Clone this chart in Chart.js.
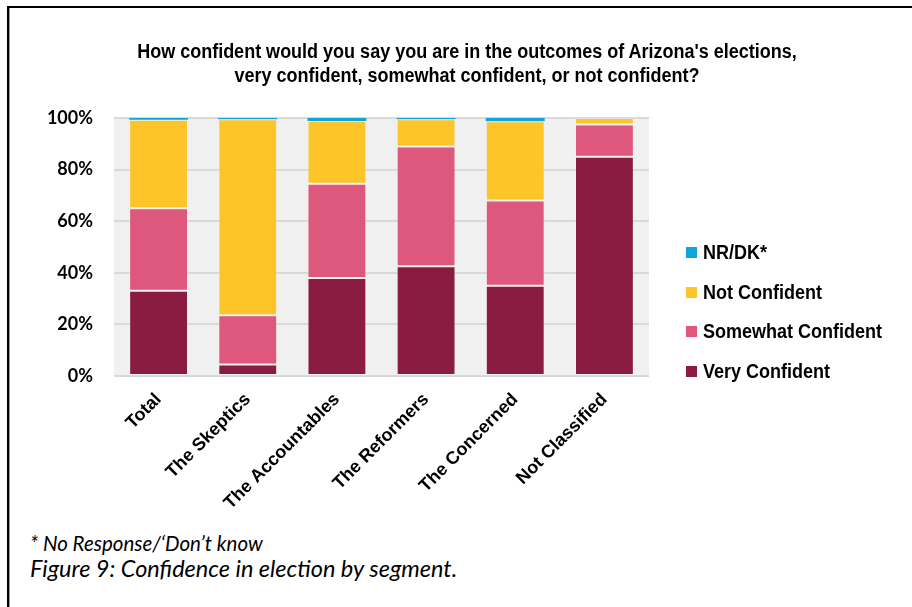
<!DOCTYPE html>
<html>
<head>
<meta charset="utf-8">
<script src="https://cdn.jsdelivr.net/npm/chart.js@4.4.1/dist/chart.umd.min.js"></script>
<style>
  body { margin: 0; background: #fff; }
  #wrap { position: relative; width: 912px; height: 607px; overflow: hidden; }
  #frame { position: absolute; left: 7px; top: 6px; width: 920px; height: 620px;
           border-left: 2px solid #000; border-top: 2px solid #000; box-shadow: inset 1px 0 0 #999; }
  canvas { position: absolute; left: 0; top: 0; }
  .title { position: absolute; left: 0; width: 934px; text-align: center; white-space: nowrap;
           font: bold 20px "Liberation Sans", Arial, sans-serif; color: #000;
           transform: scaleX(0.9); transform-origin: 467px 0; }
  #legend { position: absolute; left: 686px; top: 233px; }
  .item { height: 39.6px; display: flex; align-items: center; position: relative; }
  .box { width: 11px; height: 11px; margin-right: 6px; }
  .lbl { font: bold 20px "Liberation Sans", Arial, sans-serif; color: #000; white-space: nowrap;
         transform: scaleX(0.9); transform-origin: left center; }
  .note { position: absolute; left: 30px; font-family: Lato, "Open Sans", sans-serif; font-style: italic; color: #000; white-space: nowrap; }
</style>
</head>
<body>
<div id="wrap">
  <div id="frame"></div>
  <canvas id="chart" width="912" height="520"></canvas>
  <div class="title" style="top:40px">How confident would you say you are in the outcomes of Arizona's elections,</div>
  <div class="title" style="top:64px">very confident, somewhat confident, or not confident?</div>
  <div id="legend"></div>
  <div class="note" style="top:531px; font-size:20.5px">* No Response/‘Don’t know</div>
  <div class="note" style="top:554px; font-size:23.5px">Figure 9: Confidence in election by segment.</div>
</div>
<script>
const categories = ["Total", "The Skeptics", "The Accountables", "The Reformers", "The Concerned", "Not Classified"];
const veryConfident = [33, 4.5, 38, 42.5, 35, 85];
const somewhatConfident = [32, 19, 36.5, 46.5, 33, 12.5];
const notConfident = [34.3, 76, 24.3, 10.5, 30.7, 2.5];
const nrDk = [0.7, 0.5, 1.2, 0.5, 1.3, 0];
const yTicks = [0, 20, 40, 60, 80, 100];

const plotBg = {
  id: "plotBg",
  beforeDraw(chart) {
    const { ctx, chartArea } = chart;
    ctx.save();
    ctx.fillStyle = "#f0f0f0";
    ctx.fillRect(chartArea.left, chartArea.top - 1, chartArea.right - chartArea.left, chartArea.bottom - chartArea.top + 2);
    ctx.restore();
  }
};

const datasets = [
  { label: "Very Confident", data: veryConfident, backgroundColor: "#8b1c41" },
  { label: "Somewhat Confident", data: somewhatConfident, backgroundColor: "#de577d" },
  { label: "Not Confident", data: notConfident, backgroundColor: "#fdc52a" },
  { label: "NR/DK*", data: nrDk, backgroundColor: "#0ea5df" }
];

const chart = new Chart(document.getElementById("chart").getContext("2d"), {
  type: "bar",
  data: {
    labels: categories,
    datasets: datasets.map((d, i) => ({
      ...d,
      borderColor: "rgba(255,255,255,0.22)",
      borderWidth: i === 3 ? 0 : 1,
      borderSkipped: false,
      categoryPercentage: 1,
      barPercentage: 0.66
    }))
  },
  options: {
    responsive: false,
    animation: false,
    devicePixelRatio: 1,
    layout: { padding: { left: 0, right: 263, top: 118, bottom: 0 } },
    plugins: { legend: { display: false }, tooltip: { enabled: false } },
    scales: {
      x: {
        stacked: true,
        grid: { display: false, drawTicks: false },
        border: { display: false },
        ticks: {
          color: "#000",
          font: { family: "Liberation Sans", weight: "bold", size: 18 },
          minRotation: 45,
          maxRotation: 45,
          padding: 13
        },
        afterFit(scale) { scale.height = 144; }
      },
      y: {
        stacked: true,
        min: 0,
        max: 100,
        afterBuildTicks(scale) { scale.ticks = yTicks.map((v) => ({ value: v })); },
        grid: { color: "#d9d9d9", lineWidth: 2, drawTicks: false, tickLength: 0 },
        border: { display: false },
        ticks: {
          color: "#000",
          font: { family: "Lato", weight: "bold", size: 18 },
          padding: 21,
          callback: (v) => v + "%"
        },
        afterFit(scale) { scale.width = 114; }
      }
    }
  },
  plugins: [plotBg]
});

const legend = document.getElementById("legend");
datasets.slice().reverse().forEach((d) => {
  const item = document.createElement("div");
  item.className = "item";
  item.innerHTML = `<div class="box" style="background:${d.backgroundColor}"></div><div class="lbl">${d.label}</div>`;
  legend.appendChild(item);
});
</script>
</body>
</html>
